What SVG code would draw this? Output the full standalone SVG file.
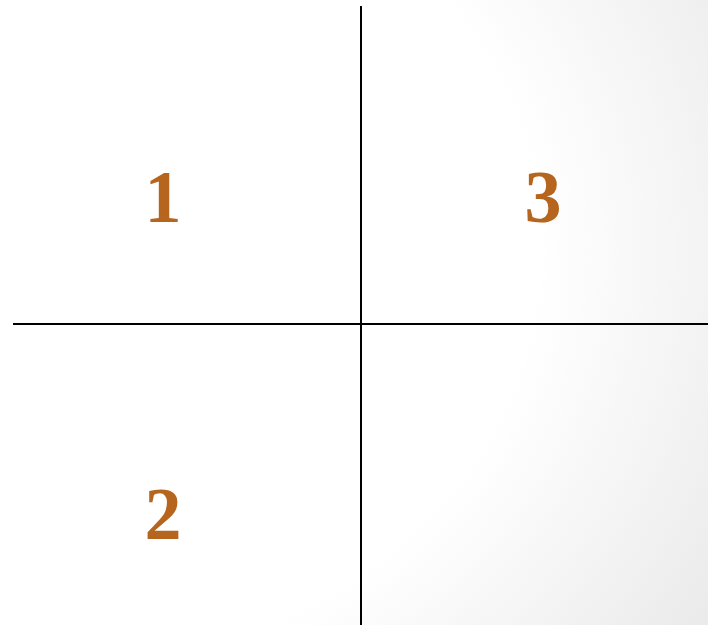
<svg xmlns="http://www.w3.org/2000/svg" width="708" height="625" viewBox="0 0 708 625">
<defs>
<radialGradient id="bg" cx="0.1" cy="0.4" r="1.1" gradientUnits="objectBoundingBox">
<stop offset="0.6" stop-color="#ffffff"/>
<stop offset="1" stop-color="#e9e9e9"/>
</radialGradient>
<style>
.ax{stroke:#000;stroke-width:2;fill:none}
.num{font-family:"Liberation Serif","DejaVu Serif",serif;font-weight:bold;font-size:74px;fill:#B5651D;text-anchor:middle}
</style>
</defs>
<rect x="0" y="0" width="708" height="625" fill="url(#bg)"/>
<g id="connectors">
<line class="ax" x1="361" y1="6" x2="361" y2="625"/>
<line class="ax" x1="13" y1="324" x2="708" y2="324"/>
</g>
<g id="q1"><text class="num" x="163" y="222">1</text></g>
<g id="q3"><text class="num" x="543" y="222">3</text></g>
<g id="q2"><text class="num" x="163" y="539">2</text></g>
</svg>
